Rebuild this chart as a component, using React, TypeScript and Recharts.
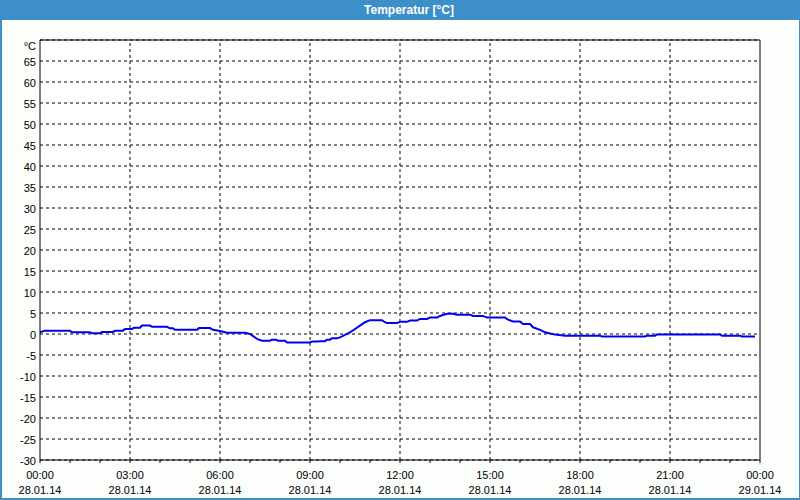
import React from "react";
import { LineChart, Line, XAxis, YAxis, CartesianGrid, ReferenceLine } from "recharts";

// time in minutes since 28.01.14 00:00
const minutes = [0, 10, 60, 64, 100, 104, 120, 124, 146, 150, 166, 170, 184, 188, 200, 204, 220, 224, 254, 260, 266, 270, 314, 318, 340, 346, 360, 374, 410, 420, 426, 436, 444, 460, 464, 472, 476, 490, 494, 540, 544, 556, 560, 570, 574, 580, 584, 594, 600, 610, 620, 630, 640, 650, 660, 684, 690, 694, 714, 720, 734, 740, 754, 760, 774, 780, 794, 800, 814, 826, 834, 860, 866, 886, 894, 930, 936, 946, 960, 966, 980, 986, 1000, 1010, 1020, 1030, 1050, 1120, 1124, 1210, 1214, 1230, 1234, 1360, 1364, 1400, 1404, 1430];
const temps = [0.4, 0.8, 0.8, 0.4, 0.4, 0.15, 0.15, 0.5, 0.5, 0.8, 0.8, 1.2, 1.2, 1.5, 1.5, 2.0, 2.0, 1.7, 1.7, 1.35, 1.35, 1.0, 1.0, 1.4, 1.4, 1.0, 0.7, 0.3, 0.3, 0.0, -0.5, -1.3, -1.6, -1.6, -1.35, -1.35, -1.6, -1.6, -2.0, -2.0, -1.8, -1.8, -1.7, -1.7, -1.35, -1.35, -1.0, -1.0, -0.8, -0.2, 0.4, 1.2, 2.0, 2.8, 3.3, 3.3, 2.8, 2.6, 2.6, 2.9, 2.9, 3.2, 3.2, 3.6, 3.6, 3.9, 3.9, 4.3, 4.8, 4.8, 4.6, 4.6, 4.3, 4.3, 3.9, 3.9, 3.4, 3.0, 3.0, 2.4, 2.4, 1.6, 1.0, 0.4, 0.1, -0.1, -0.4, -0.4, -0.6, -0.6, -0.4, -0.4, -0.1, -0.1, -0.4, -0.4, -0.6, -0.6];

const xTicks = [0, 60, 120, 180, 240, 300, 360, 420, 480, 540, 600, 660, 720, 780, 840, 900, 960, 1020, 1080, 1140, 1200, 1260, 1320, 1380, 1440];
const xGrid = [180, 360, 540, 720, 900, 1080, 1260];
const yTicks = [-30, -25, -20, -15, -10, -5, 0, 5, 10, 15, 20, 25, 30, 35, 40, 45, 50, 55, 60, 65, 70];
const timeLabels: Record<number, string> = { 0: "00:00", 180: "03:00", 360: "06:00", 540: "09:00", 720: "12:00", 900: "15:00", 1080: "18:00", 1260: "21:00", 1440: "00:00" };
const dateLabels: Record<number, string> = { 0: "28.01.14", 180: "28.01.14", 360: "28.01.14", 540: "28.01.14", 720: "28.01.14", 900: "28.01.14", 1080: "28.01.14", 1260: "28.01.14", 1440: "29.01.14" };
const title = "Temperatur [°C]";
const unit = "°C";

const data = minutes.map((m, i) => ({ t: m, v: temps[i] }));

const FONT = "'Liberation Sans', Arial, sans-serif";

const XTick = (props: any) => {
  const { x, y, payload } = props;
  const v = payload.value;
  if (timeLabels[v] === undefined) return <g />;
  return (
    <g>
      <text x={x} y={y} dy={16} textAnchor="middle" fontSize={11} fontFamily={FONT} fill="#000">{timeLabels[v]}</text>
      <text x={x} y={y} dy={31} textAnchor="middle" fontSize={11} fontFamily={FONT} fill="#000">{dateLabels[v]}</text>
    </g>
  );
};

const YTick = (props: any) => {
  const { x, y, payload } = props;
  const v = payload.value;
  const label = v === 70 ? unit : String(v);
  return (
    <text x={x} y={y} dy={v === 70 ? 10 : 5} textAnchor="end" fontSize={11} fontFamily={FONT} fill="#000">{label}</text>
  );
};

export default function App() {
  return (
    <div style={{ position: "fixed", left: 0, top: 0, width: 800, height: 500, background: "#fbfefb", overflow: "hidden" }}>
      <div style={{ position: "absolute", left: 0, top: 0 }}>
        <LineChart width={800} height={500} data={data} margin={{ top: 40, right: 40, bottom: 0, left: 0 }}>
          <CartesianGrid vertical={false} stroke="#000" strokeDasharray="3 3" fill="#ffffff" />
          {xGrid.map((g) => (
            <ReferenceLine key={g} x={g} stroke="#000" strokeDasharray="3 3" />
          ))}
          <ReferenceLine y={70} stroke="#000" />
          <ReferenceLine x={1440} stroke="#000" />
          <XAxis
            dataKey="t"
            type="number"
            domain={[0, 1440]}
            ticks={xTicks}
            interval={0}
            height={40}
            tickSize={3}
            tickMargin={0}
            stroke="#000"
            tick={<XTick />}
          />
          <YAxis
            type="number"
            domain={[-30, 70]}
            ticks={yTicks}
            interval={0}
            width={40}
            tickLine={false}
            tickSize={0}
            tickMargin={4}
            stroke="#000"
            tick={<YTick />}
          />
          <Line type="linear" dataKey="v" stroke="#0000ee" strokeWidth={2} dot={false} isAnimationActive={false} />
        </LineChart>
      </div>
      <div style={{ position: "absolute", left: 0, top: 0, width: 800, height: 20, background: "#3d8fc7", color: "#fff", textAlign: "center", lineHeight: "20px", fontSize: 12, paddingLeft: 18, boxSizing: "border-box", fontFamily: "'Liberation Sans', sans-serif", fontWeight: "bold" }}>
        {title}
      </div>
      <div style={{ position: "absolute", left: 0, top: 0, width: 800, height: 500, boxSizing: "border-box", borderLeft: "2px solid #3d8fc7", borderRight: "1px solid #3d8fc7", borderBottom: "2px solid #3d8fc7", pointerEvents: "none" }} />
    </div>
  );
}
